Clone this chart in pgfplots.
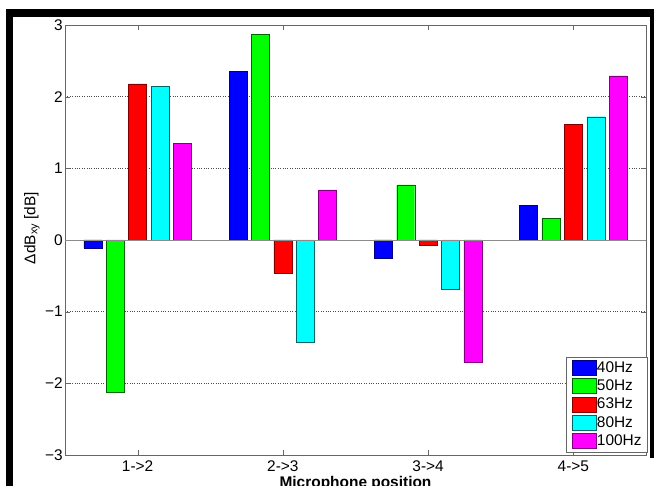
\documentclass[border=0pt]{standalone}
\usepackage{fontspec}
\setmainfont{Liberation Sans}
\usepackage{pgfplots}
\pgfplotsset{compat=1.18}
\definecolor{mblue}{rgb}{0,0,1}
\definecolor{mgreen}{rgb}{0,1,0}
\definecolor{mred}{rgb}{1,0,0}
\definecolor{mcyan}{rgb}{0,1,1}
\definecolor{mmag}{rgb}{1,0,1}
\newcommand{\lbl}{\fontsize{15.5}{18}\selectfont}
\begin{document}
\begin{tikzpicture}
\useasboundingbox (0bp,0bp) rectangle (654bp,486bp);
\fill[white] (0bp,0bp) rectangle (654bp,486bp);
\begin{axis}[
  at={(65bp,31bp)}, anchor=south west,
  scale only axis, width=581bp, height=430bp,
  xmin=0.5, xmax=4.5, ymin=-3, ymax=3,
  ybar=4.4bp, bar width=18bp,
  xtick={1,2,3,4}, xticklabels={1->2,2->3,3->4,4->5},
  ytick={-3,-2,-1,0,1,2,3}, yticklabels={−3,−2,−1,0,1,2,3},
  tick align=inside, major tick length=5bp,
  xtick pos=both, ytick pos=both,
  xticklabel pos=lower, yticklabel pos=left,
  ymajorgrids, grid style={dotted, black!70, line width=0.6bp},
  axis line style={black!60},
  tick style={black!60},
  xticklabel style={font=\lbl, inner sep=0pt, yshift=-6bp},
  yticklabel style={font=\lbl, inner sep=0pt, xshift=-2bp},
  xlabel={Microphone position},
  xlabel style={at={(axis description cs:0.5,-0.048)}, anchor=north, inner sep=0pt, font=\bfseries\lbl},
  ylabel={ΔdB\textsubscript{xy} [dB]},
  ylabel style={at={(axis description cs:-0.057,0.528)}, anchor=center, inner sep=0pt, font=\lbl},
  legend style={at={(rel axis cs:1.003,0.007)}, anchor=south east, draw=black!60, fill=white,
    font=\lbl, inner xsep=5bp, inner ysep=3bp, row sep=3bp, column sep=0pt, nodes={inner sep=1bp}, cells={anchor=west}},
  legend image code/.code={\draw[#1] (0bp,-7.5bp) rectangle (24bp,7.5bp);},
]
\addplot[fill=mblue, draw=mblue!50!black] coordinates {(1,-0.11) (2,2.35) (3,-0.25) (4,0.48)};
\addplot[fill=mgreen, draw=mgreen!40!black] coordinates {(1,-2.13) (2,2.87) (3,0.77) (4,0.30)};
\addplot[fill=mred, draw=mred!50!black] coordinates {(1,2.18) (2,-0.46) (3,-0.07) (4,1.61)};
\addplot[fill=mcyan, draw=mcyan!40!black] coordinates {(1,2.14) (2,-1.42) (3,-0.69) (4,1.72)};
\addplot[fill=mmag, draw=mmag!50!black] coordinates {(1,1.35) (2,0.70) (3,-1.71) (4,2.29)};
\legend{40Hz,50Hz,63Hz,80Hz,100Hz}
\draw[black!45] (axis cs:0.5,0) -- (axis cs:4.5,0);
\end{axis}
\fill[black] (6bp,469bp) rectangle (654bp,477bp);
\fill[black] (6bp,0bp) rectangle (13bp,477bp);
\fill[black] (650bp,28bp) rectangle (654bp,477bp);
\end{tikzpicture}
\end{document}
